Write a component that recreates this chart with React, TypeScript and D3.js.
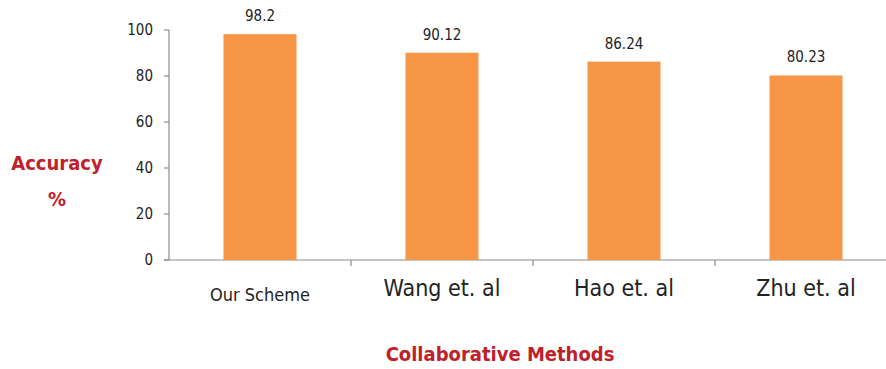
import React from "react";
import * as d3 from "d3";

const categories = ["Our Scheme", "Wang et. al", "Hao et. al", "Zhu et. al"];
const values = [98.2, 90.12, 86.24, 80.23];
const valueLabels = ["98.2", "90.12", "86.24", "80.23"];
const yTicks = [0, 20, 40, 60, 80, 100];

const W = 886;
const H = 369;
const FONT = "'Liberation Sans Narrow', 'DejaVu Sans Condensed', 'Open Sans', sans-serif";

export default function App() {
  const xTickScale = d3.scaleBand<string>().domain(categories).range([169, 897]);
  const y = d3.scaleLinear().domain([0, 100]).range([260, 30]);
  const axisColor = "#8c8c8c";
  const cx = (c: string) => (xTickScale(c) as number) + xTickScale.bandwidth() / 2;
  return (
    <svg width={W} height={H} style={{ position: "absolute", left: 0, top: 0, background: "#fff" }} fontFamily={FONT}>
      <line x1={169} x2={169} y1={y(100)} y2={y(0)} stroke={axisColor} strokeWidth={1.2} />
      {yTicks.map((t) => (
        <g key={t}>
          <line x1={164} x2={169} y1={y(t)} y2={y(t)} stroke={axisColor} strokeWidth={1.2} />
          <text x={153} y={y(t)} dy="0.35em" textAnchor="end" fontSize={15} fill="#222">{t}</text>
        </g>
      ))}
      <line x1={164} x2={897} y1={y(0)} y2={y(0)} stroke={axisColor} strokeWidth={1.2} />
      {categories.map((c) => (
        <line key={c} x1={(xTickScale(c) as number) + xTickScale.bandwidth()} x2={(xTickScale(c) as number) + xTickScale.bandwidth()} y1={y(0)} y2={y(0) + 6} stroke={axisColor} strokeWidth={1.2} />
      ))}
      {categories.map((c, i) => (
        <rect key={c} x={cx(c) - 36.5} width={73} y={y(values[i])} height={y(0) - y(values[i])} fill="#f79646" />
      ))}
      {categories.map((c, i) => (
        <text key={c} x={cx(c)} y={y(values[i]) - 13} textAnchor="middle" fontSize={15} fill="#222">{valueLabels[i]}</text>
      ))}
      {categories.map((c, i) => (
        <text key={c} x={cx(c)} y={i === 0 ? 301 : 296} textAnchor="middle" fontSize={i === 0 ? 18 : 23} fill="#222">{c}</text>
      ))}
      <text x={57} y={170} textAnchor="middle" fontSize={20} fontWeight="bold" fill="#c0202a">Accuracy</text>
      <text x={57} y={206} textAnchor="middle" fontSize={20} fontWeight="bold" fill="#c0202a">%</text>
      <text x={500} y={361} textAnchor="middle" fontSize={20} fontWeight="bold" fill="#c0202a">Collaborative Methods</text>
    </svg>
  );
}
